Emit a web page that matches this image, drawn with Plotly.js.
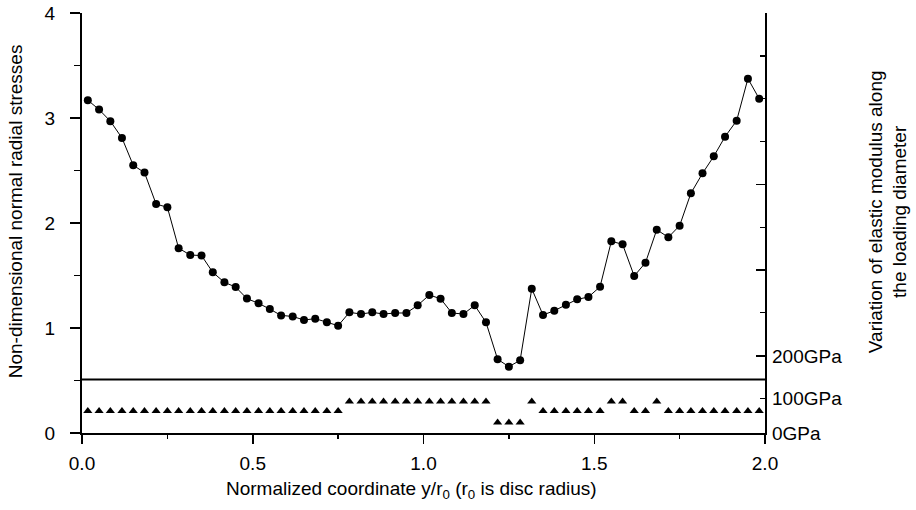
<!DOCTYPE html>
<html>
<head>
<meta charset="utf-8">
<script src="https://cdn.plot.ly/plotly-3.0.1.min.js"></script>
<style>html,body{margin:0;padding:0;background:#fff}#chart{width:916px;height:510px}</style>
</head>
<body>
<div id="chart"></div>
<script>
// Normalized coordinate y/r0 (60 sample positions)
const xCoord = [0.017,0.050,0.083,0.117,0.150,0.183,0.217,0.250,0.283,0.317,
  0.350,0.383,0.417,0.450,0.483,0.517,0.550,0.583,0.617,0.650,
  0.683,0.717,0.750,0.783,0.817,0.850,0.883,0.917,0.950,0.983,
  1.017,1.050,1.083,1.117,1.150,1.183,1.217,1.250,1.283,1.317,
  1.350,1.383,1.417,1.450,1.483,1.517,1.550,1.583,1.617,1.650,
  1.683,1.717,1.750,1.783,1.817,1.850,1.883,1.917,1.950,1.983];
// Non-dimensional normal radial stresses
const radialStress = [3.17,3.08,2.97,2.81,2.55,2.48,2.18,2.15,1.76,1.695,
  1.69,1.53,1.435,1.39,1.28,1.235,1.18,1.12,1.11,1.076,
  1.089,1.054,1.022,1.149,1.133,1.149,1.133,1.143,1.143,1.216,
  1.314,1.279,1.143,1.133,1.216,1.054,0.702,0.632,0.692,1.374,
  1.124,1.165,1.222,1.273,1.295,1.393,1.826,1.797,1.495,1.622,
  1.936,1.864,1.975,2.283,2.473,2.635,2.822,2.975,3.375,3.184];
// Elastic modulus markers (drawn on the lower band of the chart)
const modulusLevel = [0.21,0.21,0.21,0.21,0.21,0.21,0.21,0.21,0.21,0.21,
  0.21,0.21,0.21,0.21,0.21,0.21,0.21,0.21,0.21,0.21,
  0.21,0.21,0.21,0.30,0.30,0.30,0.30,0.30,0.30,0.30,
  0.30,0.30,0.30,0.30,0.30,0.30,0.10,0.10,0.10,0.30,
  0.21,0.21,0.21,0.21,0.21,0.21,0.30,0.30,0.21,0.21,
  0.30,0.21,0.21,0.21,0.21,0.21,0.21,0.21,0.21,0.21];
const separatorLevel = 0.51;
// Left axis ticks
const leftTicks = [0,1,2,3,4];
const leftMinorTicks = [0.5,1.5,2.5,3.5];
// Bottom axis ticks
const bottomTicks = [0,0.5,1,1.5,2];
const bottomMinorTicks = [0.25,0.75,1.25,1.75];
// Right axis ticks (in left-axis units) and labels
const rightMajorTicks = [4,3.184,2.369,1.552,0.733];
const rightMinorTicks = [3.59,2.774,1.957,1.146,0.327];
const rightLabelVals = [0.733,0.327,0];
const rightLabelText = ['200GPa','100GPa','0GPa'];
// Titles
const xTitle = 'Normalized coordinate y/r<sub>0</sub> (r<sub>0</sub> is disc radius)';
const yTitle = 'Non-dimensional normal radial stresses';
const y2Title = 'Variation of elastic modulus along<br>the loading diameter';

const FONT = 'Liberation Sans, Arial, Helvetica, sans-serif';

const traces = [
  {x: xCoord, y: radialStress, type:'scatter', mode:'lines+markers',
   line:{color:'#000', width:1}, marker:{symbol:'circle', size:8, color:'#000'},
   showlegend:false, hoverinfo:'skip'},
  {x: xCoord, y: modulusLevel, type:'scatter', mode:'markers', yaxis:'y2',
   marker:{symbol:'triangle-up', size:8, color:'#000'},
   showlegend:false, hoverinfo:'skip'},
  {x:[null], y:[null], yaxis:'y3', type:'scatter', mode:'markers', showlegend:false, hoverinfo:'skip'}
];

const layout = {
  width:916, height:510,
  margin:{l:82, r:151, t:13, b:77},
  paper_bgcolor:'#fff', plot_bgcolor:'#fff',
  font:{family:FONT, size:19, color:'#000'},
  showlegend:false,
  xaxis:{
    range:[0,2], showgrid:false, zeroline:false,
    showline:true, linewidth:2, linecolor:'#000',
    ticks:'outside', ticklen:9, tickwidth:1.5, tickcolor:'#000',
    tickvals:bottomTicks, tickformat:'.1f',
    ticklabelstandoff:3,
    minor:{tickvals:bottomMinorTicks, ticks:'outside', ticklen:4, tickwidth:1.5, tickcolor:'#000'}
  },
  yaxis:{
    range:[0,4], showgrid:false, zeroline:false,
    showline:true, linewidth:2, linecolor:'#000',
    ticks:'outside', ticklen:10, tickwidth:1.5, tickcolor:'#000',
    tickvals:leftTicks, ticklabelstandoff:11,
    minor:{tickvals:leftMinorTicks, ticks:'outside', ticklen:6, tickwidth:1.5, tickcolor:'#000'}
  },
  yaxis2:{
    overlaying:'y', side:'right', range:[0,4], showgrid:false, zeroline:false,
    showline:true, linewidth:2, linecolor:'#000',
    ticks:'inside', ticklen:9, tickwidth:1.5, tickcolor:'#000',
    tickvals:rightMajorTicks, showticklabels:false,
    minor:{tickvals:rightMinorTicks, ticks:'inside', ticklen:5, tickwidth:1.5, tickcolor:'#000'}
  },
  yaxis3:{
    overlaying:'y', side:'right', range:[0,4], showgrid:false, zeroline:false,
    showline:false, ticks:'', tickvals:rightLabelVals, ticktext:rightLabelText,
    ticklabelstandoff:6
  },
  annotations:[
    {text:xTitle, xref:'paper', yref:'paper', x:0.483, y:-0.136, xanchor:'center', yanchor:'middle',
     showarrow:false, font:{size:19}},
    {text:yTitle, xref:'paper', yref:'paper', x:-0.098, y:0.528, xanchor:'center', yanchor:'middle',
     textangle:-90, showarrow:false, font:{size:19}},
    {text:y2Title, xref:'paper', yref:'paper', x:1.180, y:0.528, xanchor:'center', yanchor:'middle',
     textangle:-90, showarrow:false, font:{size:19}}
  ],
  shapes:[
    {type:'line', xref:'paper', x0:0, x1:1, yref:'y', y0:separatorLevel, y1:separatorLevel,
     line:{color:'#000', width:2}}
  ]
};

Plotly.newPlot('chart', traces, layout, {staticPlot:true, displayModeBar:false});
</script>
</body>
</html>
